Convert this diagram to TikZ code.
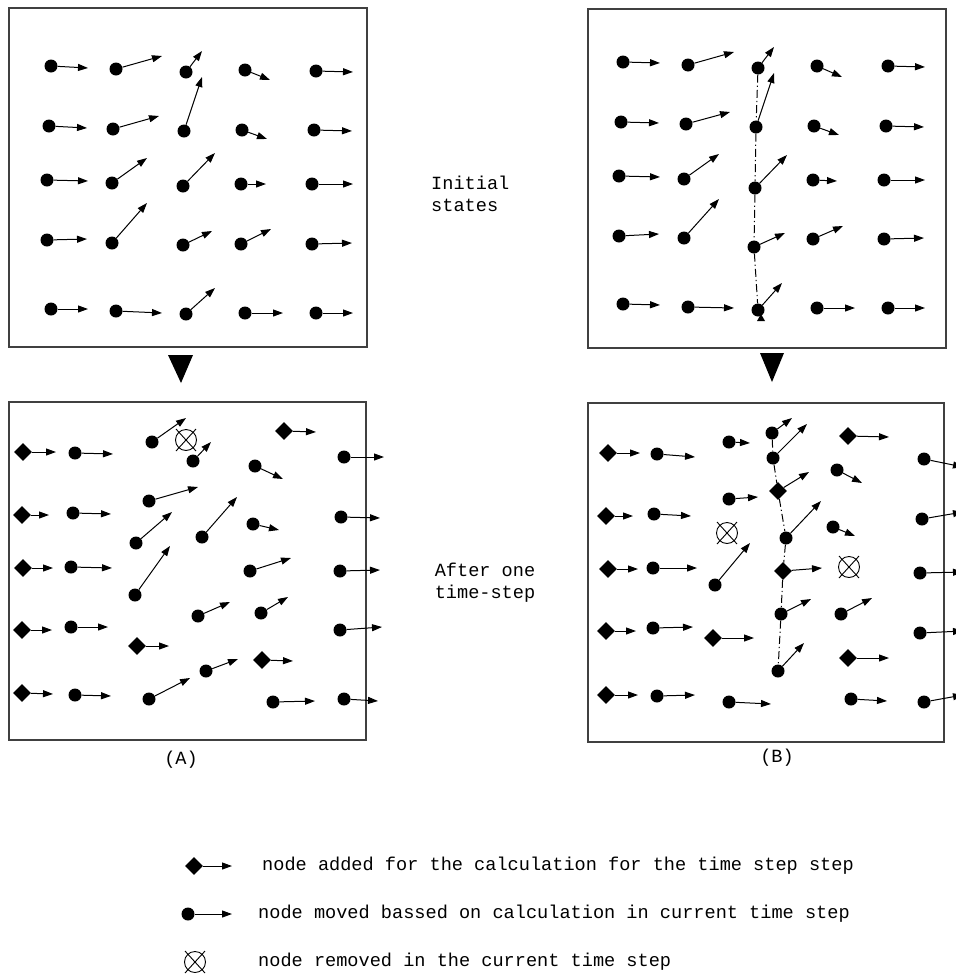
\documentclass[tikz,border=0pt]{standalone}
\usepackage{fontspec}
\setmonofont{Liberation Mono}
\usetikzlibrary{arrows.meta,shapes.geometric}
\tikzset{
  vec/.style={line width=1pt,-{Triangle[length=10pt,width=7pt]}},
  dotn/.style={circle,fill=black,inner sep=0pt,minimum size=13pt},
  dmd/.style={diamond,fill=black,inner sep=0pt,minimum size=18pt},
  pane/.style={draw=black!75,line width=1.3pt},
  chainline/.style={line width=1pt,dash pattern=on 8pt off 3pt on 1.2pt off 3pt},
  lbl/.style={font=\ttfamily\fontsize{18.6}{22}\selectfont,inner sep=0pt},
  removed/.pic={\draw[line width=0.9pt] (0,0) circle[radius=10.5pt];
                \draw[line width=0.9pt] (-10,-11) -- (10,11) (-10,11) -- (10,-11);}
}
\newcommand\vd[3]{\node[dotn] (#1) at (#2) {}; \draw[vec] (#1) -- (#3);}
\newcommand\vq[3]{\node[dmd] (#1) at (#2) {}; \draw[vec] (#1) -- (#3);}
\begin{document}
\begin{tikzpicture}[x=1pt,y=-1pt]
\useasboundingbox (0,0) rectangle (956,975);
% panel boxes
\draw[pane] (9,8) rectangle (367,347);
\draw[pane] (588,9) rectangle (946,348);
\draw[pane] (9,402) rectangle (366,740);
\draw[pane] (588,403) rectangle (944,742);
% ---------- panel 1
\vd{a1}{51,66}{88,68}
\vd{a2}{116,69}{162,56}
\vd{a3}{186,72}{202,51}
\vd{a4}{245,70}{270,80}
\vd{a5}{316,71}{353,72}
\vd{a6}{49,126}{87,128}
\vd{a7}{113,129}{159,116}
\vd{a8}{184,131}{202,77}
\vd{a9}{242,130}{267,139}
\vd{a10}{314,130}{352,131}
\vd{a11}{47,180}{88,181}
\vd{a12}{112,183}{147,158}
\vd{a13}{183,186}{215,153}
\vd{a14}{241,184}{266,184}
\vd{a15}{312,184}{353,184}
\vd{a16}{47,240}{87,239}
\vd{a17}{112,243}{147,203}
\vd{a18}{183,245}{212,231}
\vd{a19}{241,244}{271,229}
\vd{a20}{312,244}{352,243}
\vd{a21}{51,309}{88,309}
\vd{a22}{116,311}{162,313}
\vd{a23}{186,314}{215,288}
\vd{a24}{245,313}{283,313}
\vd{a25}{316,313}{353,313}
% ---------- panel 2
\vd{b1}{623,62}{660,63}
\vd{b2}{688,65}{734,52}
\vd{b3}{758,68}{774,47}
\vd{b4}{817,66}{842,77}
\vd{b5}{888,66}{925,67}
\vd{b6}{621,122}{659,123}
\vd{b7}{686,124}{730,112}
\vd{b8}{756,127}{774,73}
\vd{b9}{814,126}{839,135}
\vd{b10}{886,126}{924,127}
\vd{b11}{619,176}{660,177}
\vd{b12}{684,179}{719,154}
\vd{b13}{755,188}{787,155}
\vd{b14}{813,180}{837,181}
\vd{b15}{884,180}{925,180}
\vd{b16}{619,236}{659,234}
\vd{b17}{684,238}{719,199}
\vd{b18}{754,247}{785,233}
\vd{b19}{813,239}{843,226}
\vd{b20}{884,239}{924,238}
\vd{b21}{623,304}{660,305}
\vd{b22}{688,307}{734,308}
\vd{b23}{758,310}{782,283}
\vd{b24}{817,308}{855,308}
\vd{b25}{888,308}{925,308}
\draw[chainline] (b3) -- (b8) -- (b13) -- (b18) -- (b23);
\fill (757,321) -- (765,321) -- (761,314) -- cycle;
% ---------- panel 3
\vq{c1}{23,452}{56,452}
\vq{c2}{22,515}{49,515}
\vq{c3}{23,568}{53,568}
\vq{c4}{22,630}{52,630}
\vq{c5}{22,693}{53,694}
\vd{c6}{75,453}{113,454}
\vd{c7}{73,513}{111,514}
\vd{c8}{71,567}{112,568}
\vd{c9}{71,627}{108,627}
\vd{c10}{75,695}{111,696}
\vd{c11}{152,442}{186,418}
\vd{c12}{149,501}{198,487}
\vd{c13}{136,543}{172,512}
\vd{c14}{135,595}{170,546}
\vq{c15}{137,646}{169,646}
\vd{c16}{149,699}{190,678}
\pic at (186,440) {removed};
\vd{c17}{193,461}{211,442}
\vd{c18}{202,537}{237,497}
\vd{c19}{198,616}{230,602}
\vd{c20}{206,671}{238,659}
\vq{c21}{284,431}{316,432}
\vd{c22}{255,466}{283,479}
\vd{c23}{253,524}{279,530}
\vd{c24}{250,571}{291,558}
\vd{c25}{261,613}{288,597}
\vq{c26}{262,660}{293,661}
\vd{c27}{273,702}{315,701}
\vd{c28}{344,457}{384,457}
\vd{c29}{341,517}{380,518}
\vd{c30}{340,571}{380,570}
\vd{c31}{340,630}{382,627}
\vd{c32}{344,699}{378,701}
% ---------- panel 4
\vq{d1}{608,453}{640,453}
\vq{d2}{606,516}{633,516}
\vq{d3}{608,569}{638,569}
\vq{d4}{606,631}{636,631}
\vq{d5}{606,695}{638,695}
\vd{d6}{657,454}{695,457}
\vd{d7}{654,514}{691,516}
\vd{d8}{653,568}{697,568}
\vd{d9}{653,628}{693,627}
\vd{d10}{657,696}{695,695}
\vd{d11}{729,442}{750,443}
\vd{d12}{729,499}{758,497}
\pic at (727,533) {removed};
\vd{d13}{715,585}{750,543}
\vq{d14}{713,638}{754,638}
\vd{d15}{729,702}{771,704}
\vd{d16}{772,433}{792,418}
\vd{d17}{773,458}{807,424}
\vq{d18}{778,491}{809,472}
\vd{d19}{786,538}{821,501}
\vq{d20}{783,571}{822,568}
\vd{d21}{781,614}{811,599}
\vd{d22}{778,671}{804,643}
\draw[chainline] (d16) -- (d17) -- (d18) -- (d19) -- (d20) -- (d21) -- (d22);
\vq{d23}{848,436}{889,437}
\vd{d24}{837,470}{862,483}
\vd{d25}{833,527}{855,536}
\pic at (849,567) {removed};
\vd{d26}{841,614}{872,598}
\vq{d27}{848,658}{889,658}
\vd{d28}{851,699}{887,701}
\vd{d29}{924,459}{963,467}
\vd{d30}{922,519}{963,512}
\vd{d31}{920,573}{963,572}
\vd{d32}{920,633}{963,631}
\vd{d33}{924,702}{963,695}
% ---------- transition arrows
\fill (168,355) -- (193,355) -- (181,383) -- cycle;
\fill (760,353) -- (784,353) -- (772,382) -- cycle;
% ---------- texts
\node[lbl,anchor=west,align=left] (init) at (431,194) {Initial\\states};
\node[lbl,align=center] (after) at (485,583) {After one\\time-step};
\node[lbl] (capA) at (181,760) {(A)};
\node[lbl] (capB) at (777,758) {(B)};
% ---------- legend
\vq{l1}{194,866}{232,866}
\node[lbl,anchor=west] (t1) at (262,866) {node added for the calculation for the time step step};
\vd{l2}{188,914}{232,914}
\node[lbl,anchor=west] (t2) at (258,914) {node moved bassed on calculation in current time step};
\pic at (195,962) {removed};
\node[lbl,anchor=west] (t3) at (258,962) {node removed in the current time step};
\end{tikzpicture}
\end{document}
